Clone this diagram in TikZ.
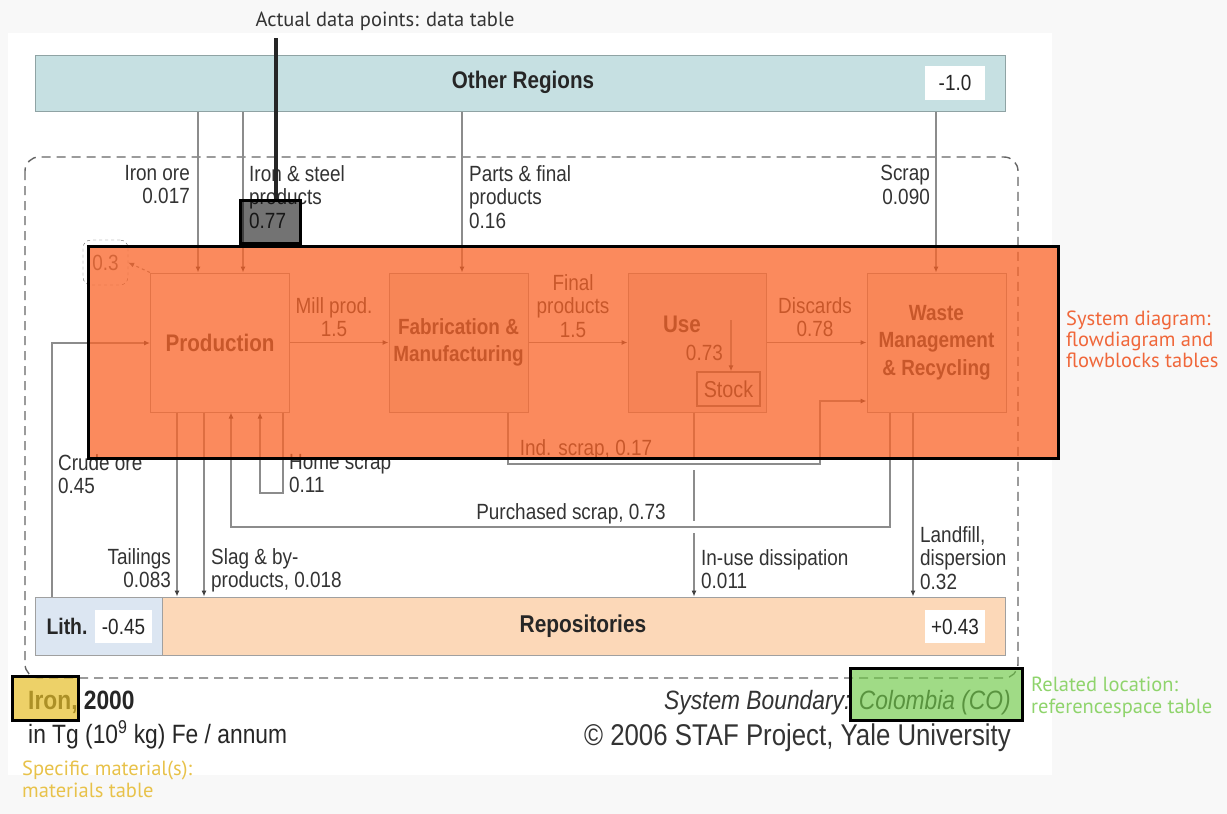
\documentclass[tikz,border=0pt]{standalone}
\usepackage{fontspec}
\setmainfont{Liberation Sans}[FakeStretch=0.86]
\newfontfamily\notefont{PT Sans}
\usetikzlibrary{arrows.meta}

\definecolor{pagebg}{HTML}{F8F8F8}
\definecolor{orgn}{HTML}{C6E0E2}
\definecolor{orgnline}{HTML}{8FA3A4}
\definecolor{lithc}{HTML}{DCE6F2}
\definecolor{repoc}{HTML}{FCD8B8}
\definecolor{boxline}{HTML}{A0A0A0}
\definecolor{flowc}{HTML}{8C8C8C}
\definecolor{txt}{HTML}{333333}
\definecolor{fabfill}{HTML}{F2ECE6}
\definecolor{usefill}{HTML}{ECE2E2}
\definecolor{wastefill}{HTML}{F8F0EA}
\definecolor{hiorange}{RGB}{250,100,40}
\definecolor{higreen}{RGB}{110,200,70}
\definecolor{hiyellow}{RGB}{230,190,40}
\definecolor{noteorange}{HTML}{F0673A}
\definecolor{notegreen}{HTML}{8FD46C}
\definecolor{noteyellow}{HTML}{E8C24A}

\tikzset{
  flow/.style={draw=flowc, line width=1.1pt},
  arr/.style={flow, -{Latex[length=6pt,width=5pt,color=black!75]}},
  procbox/.style={draw=boxline, line width=1pt, minimum width=139pt, minimum height=139pt,
    font=\bfseries\fontsize{22}{27.5}\selectfont, text=txt, align=center, inner sep=0pt},
  lbl/.style={font=\fontsize{22}{23.5}\selectfont, text=txt, inner sep=0pt},
  valbox/.style={fill=white, minimum width=60pt, minimum height=34pt, inner sep=0pt,
    font=\fontsize{22}{24}\selectfont, text=black!85},
  bandtext/.style={font=\bfseries\fontsize{23}{26}\selectfont, text=black!85, inner sep=0pt},
  note/.style={font=\notefont\fontsize{20.5}{21}\selectfont, inner sep=0pt, align=left},
  hilite/.style={draw=black, line width=3pt, inner sep=0pt},
  boundary/.style={draw=black!60, line width=1.4pt, dash pattern=on 9pt off 6pt, rounded corners=14pt}
}

\begin{document}
\begin{tikzpicture}[x=1pt,y=-1pt]
\useasboundingbox (0,0) rectangle (1227,814);
\fill[pagebg] (0,0) rectangle (1227,814);
\fill[white] (8,33) rectangle (1052,775);

% system boundary
\draw[boundary] (25,157) rectangle (1018,678);

% outer bands
\node[draw=orgnline, fill=orgn, line width=1pt, minimum width=970pt, minimum height=56pt, inner sep=0pt] (other) at (520,83) {};
\node[bandtext, font=\bfseries\fontsize{24}{26}\selectfont] (otherlbl) at (523,82) {Other Regions};
\node[valbox] (otherval) at (955,83) {-1.0};

\node[draw=boxline, fill=lithc, line width=1pt, minimum width=127pt, minimum height=58pt, inner sep=0pt] (lith) at (98.5,626) {};
\node[bandtext, font=\bfseries\fontsize{22.5}{26}\selectfont] (lithlbl) at (67,626) {Lith.};
\node[valbox, minimum width=57pt, minimum height=33pt] (lithval) at (123.5,626.5) {-0.45};
\node[draw=boxline, fill=repoc, line width=1pt, minimum width=843pt, minimum height=58pt, inner sep=0pt] (repo) at (583.5,626) {};
\node[bandtext, font=\bfseries\fontsize{24.3}{26}\selectfont] (repolbl) at (583,626) {Repositories};
\node[valbox, minimum height=33pt] (repoval) at (955,626.5) {+0.43};

% processes
\node[procbox, fill=white, font=\bfseries\fontsize{24}{27}\selectfont] (prod) at (220,342.5) {Production};
\node[procbox, fill=fabfill] (fab) at (458.5,342.5) {Fabrication \&\\Manufacturing};
\node[procbox, fill=usefill, minimum width=138pt] (use) at (697,342.5) {};
\node[bandtext, font=\bfseries\fontsize{24}{26}\selectfont, text=txt] (uselbl) at (682,324) {Use};
\node[draw=black!55, line width=1.4pt, minimum width=63pt, minimum height=34pt, inner sep=0pt,
      font=\fontsize{23}{24}\selectfont, text=txt] (stock) at (728.5,389) {Stock};
\node[procbox, fill=wastefill] (waste) at (936.5,342.5) {Waste\\Management\\\& Recycling};

% stock change of production
\node[draw=black!60, dashed, rounded corners=8pt, minimum width=45pt, minimum height=45pt, inner sep=0pt,
      font=\fontsize{22}{24}\selectfont, text=black!60] (pstock) at (105.5,262.5) {0.3};
\draw[flow, dashed, -{Latex[length=6pt,width=5pt,color=black!60]}] (prod.north west) -- (pstock.east);

% x positions of the vertical flows
\coordinate (xio) at (198,0);
\coordinate (xis) at (243,0);
\coordinate (xpf) at (462,0);
\coordinate (xsc) at (936,0);
\coordinate (xtl) at (177,0);
\coordinate (xsl) at (204,0);
\coordinate (xiu) at (694,0);
\coordinate (xlf) at (913,0);
\coordinate (xst) at (731,0);
\coordinate (crude) at (52,343);
\coordinate (ind1) at (508,464);
\coordinate (ind2) at (820,401);
\coordinate (pur1) at (890,527);
\coordinate (pur2) at (231,527);
\coordinate (home1) at (283,493);
\coordinate (home2) at (260,493);
\coordinate (sttop) at (731,320);

% imports
\draw[arr] (other.south -| xio) -- (prod.north -| xio);
\draw[arr] (other.south -| xis) -- (prod.north -| xis);
\draw[arr] (other.south -| xpf) -- (fab.north -| xpf);
\draw[arr] (other.south -| xsc) -- (waste.north -| xsc);

% main chain
\draw[arr] (lith.north -| crude) -- (crude) -- (crude -| prod.west);
\draw[arr] (prod.east) -- (fab.west);
\draw[arr] (fab.east) -- (use.west);
\draw[arr] (use.east) -- (waste.west);
\draw[arr] (sttop) -- (stock.north -| xst);

% scrap loops
\draw[arr] (fab.south -| ind1) -- (ind1) -- (ind1 -| ind2) -- (ind2) -- (ind2 -| waste.west);
\draw[arr] (waste.south -| pur1) -- (pur1) -- (pur1 -| pur2) -- (prod.south -| pur2);
\draw[arr] (prod.south -| home1) -- (home1) -- (home2) -- (prod.south -| home2);

% outflows to repositories
\draw[arr] (prod.south -| xtl) -- (repo.north -| xtl);
\draw[arr] (prod.south -| xsl) -- (repo.north -| xsl);
\draw[arr] (waste.south -| xlf) -- (repo.north -| xlf);
\draw[flow] (use.south -| xiu) -- (694,458);
\draw[flow] (694,470) -- (694,521);
\draw[arr] (694,533) -- (repo.north -| xiu);

% flow labels
\node[lbl, anchor=north east, align=right] (lio) at (190,165) {Iron ore\\0.017};
\node[lbl, anchor=north west, align=left] (lis) at (249,165) {Iron \& steel\\products\\0.77};
\node[lbl, anchor=north west, align=left] (lpf) at (469,165) {Parts \& final\\products\\0.16};
\node[lbl, anchor=north east, align=right] (lsc) at (930,165) {Scrap\\0.090};
\node[lbl, anchor=north, align=center] (lmp) at (334,297) {Mill prod.\\1.5};
\node[lbl, anchor=north, align=center] (lfp) at (573,274) {Final\\products\\1.5};
\node[lbl, anchor=north, align=center] (ldc) at (815,297) {Discards\\0.78};
\node[lbl, anchor=north east] (lst) at (723,345) {0.73};
\node[lbl, anchor=north] (lind) at (586,439) {Ind. scrap, 0.17};
\node[lbl, anchor=north west, align=left] (lcr) at (58,454) {Crude ore\\0.45};
\node[lbl, anchor=north west, align=left] (lhs) at (289,454) {Home scrap\\0.11};
\node[lbl, anchor=north] (lps) at (571,503) {Purchased scrap, 0.73};
\node[lbl, anchor=north east, align=right] (ltl) at (171,548) {Tailings\\0.083};
\node[lbl, anchor=north west, align=left] (lsl) at (211,548) {Slag \& by-\\products, 0.018};
\node[lbl, anchor=north west, align=left] (liu) at (701,549) {In-use dissipation\\0.011};
\node[lbl, anchor=north west, align=left] (llf) at (920,526) {Landfill,\\dispersion\\0.32};

% footer
\node[anchor=base west, inner sep=0pt, font=\bfseries\fontsize{26.5}{30}\selectfont, text=black!85] (mat) at (28,709) {Iron, 2000};
\node[anchor=base west, inner sep=0pt, font=\fontsize{26.5}{30}\selectfont, text=black!85] (unit) at (28,743) {in Tg (10\textsuperscript{9} kg) Fe / annum};
\node[anchor=base east, inner sep=0pt, font=\itshape\fontsize{26.5}{30}\selectfont, text=black!80] (sysb) at (1011,709) {System Boundary: Colombia (CO)};
\node[anchor=base east, inner sep=0pt, font=\fontsize{30}{32}\selectfont, text=black!80] (copy) at (1011,745) {\textcopyright{} 2006 STAF Project, Yale University};

% highlight boxes
\node[hilite, fill=black, fill opacity=.55, minimum width=60pt, minimum height=43pt] (dbox) at (270,221.5) {};
\node[hilite, fill=hiorange, fill opacity=.75, minimum width=970pt, minimum height=212pt] (sysov) at (573,352) {};
\node[hilite, fill=hiyellow, fill opacity=.7, minimum width=66pt, minimum height=44pt] (matov) at (45,698) {};
\node[hilite, fill=higreen, fill opacity=.65, minimum width=172pt, minimum height=52pt] (locov) at (936,694) {};

% annotations
\node[note, text=black!80, anchor=north] (dnote) at (385,12) {Actual data points: data table};
\coordinate (dl) at (276,38);
\draw[black!85, line width=4pt] (dl) -- (dl |- dbox.north);
\node[note, text=noteorange, anchor=north west] (snote) at (1066,311) {System diagram:\\flowdiagram and\\flowblocks tables};
\node[note, text=notegreen, anchor=north west, font=\notefont\fontsize{20.5}{22}\selectfont] (lnote) at (1031,677) {Related location:\\referencespace table};
\node[note, text=noteyellow, anchor=north west, font=\notefont\fontsize{20.5}{22}\selectfont] (mnote) at (22,761) {Specific material(s):\\materials table};
\end{tikzpicture}
\end{document}
